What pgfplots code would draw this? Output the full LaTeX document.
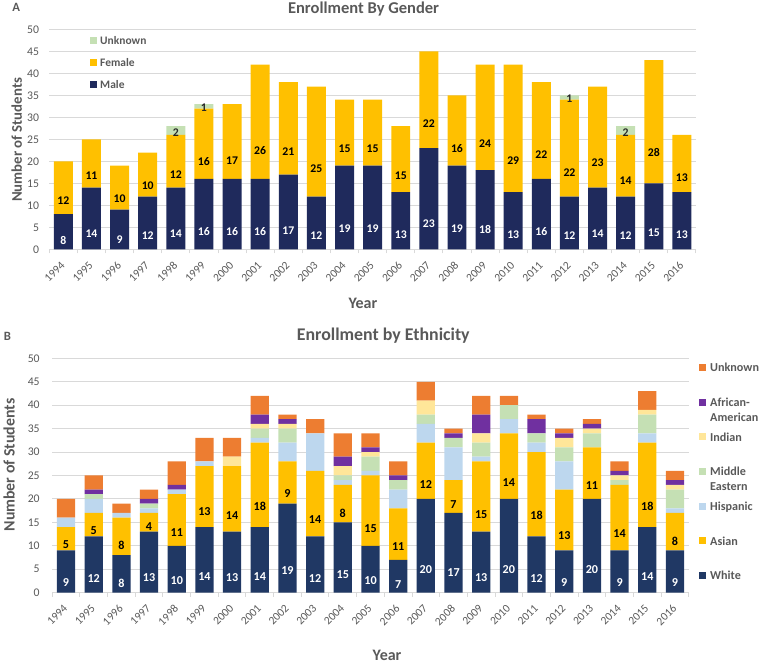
\documentclass[border=0pt]{standalone}
\usepackage{pgfplots}
\usepackage{pgfplotstable}
\pgfplotsset{compat=1.18}
\usepackage{fontspec}
\setmainfont{Carlito}

\definecolor{txtgray}{HTML}{595959}
\definecolor{gridgray}{HTML}{D9D9D9}
\definecolor{navyA}{HTML}{1F2A5C}
\definecolor{navyB}{HTML}{203864}
\definecolor{gold}{HTML}{FFC000}
\definecolor{lgreen}{HTML}{C5E0B4}
\definecolor{orangeU}{HTML}{ED7D31}
\definecolor{purpleAA}{HTML}{7030A0}
\definecolor{beigeI}{HTML}{FFE699}
\definecolor{lblue}{HTML}{BDD7EE}

\newcommand\fs[1]{\fontsize{#1}{1.24\dimexpr #1pt\relax}\selectfont}

% Enrollment by gender
\pgfplotstableread{
x male female unk
0  8 12 0
1 14 11 0
2  9 10 0
3 12 10 0
4 14 12 2
5 16 16 1
6 16 17 0
7 16 26 0
8 17 21 0
9 12 25 0
10 19 15 0
11 19 15 0
12 13 15 0
13 23 22 0
14 19 16 0
15 18 24 0
16 13 29 0
17 16 22 0
18 12 22 1
19 14 23 0
20 12 14 2
21 15 28 0
22 13 13 0
}\gender

% Enrollment by ethnicity
\pgfplotstableread{
x W A H ME I AA U
0   9  5 2 0 0 0 4
1  12  5 3 1 0 1 3
2   8  8 1 0 0 0 2
3  13  4 1 1 0 1 2
4  10 11 1 0 0 1 5
5  14 13 1 0 0 0 5
6  13 14 0 0 2 0 4
7  14 18 1 2 1 2 4
8  19  9 4 3 1 1 1
9  12 14 8 0 0 0 3
10 15  8 1 1 2 2 5
11 10 15 1 3 1 1 3
12  7 11 4 2 0 1 3
13 20 12 4 2 3 0 4
14 17  7 7 2 0 1 1
15 13 15 1 3 2 4 4
16 20 14 3 3 0 0 2
17 12 18 2 2 0 3 1
18  9 13 6 3 2 1 1
19 20 11 0 3 1 1 1
20  9 14 0 1 1 1 2
21 14 18 2 4 1 0 4
22  9  8 1 4 1 1 2
}\ethnic

\pgfplotsset{
  enr/.style={
    scale only axis,
    ybar stacked,
    xmin=-0.5, xmax=22.5, ymin=0, ymax=50,
    ytick={0,5,...,50},
    xtick={0,...,22},
    xticklabels={1994,1995,1996,1997,1998,1999,2000,2001,2002,2003,2004,2005,2006,2007,2008,2009,2010,2011,2012,2013,2014,2015,2016},
    minor xtick={-0.5,0.5,...,22.5},
    tick align=outside,
    major tick length=0pt,
    minor tick length=3pt,
    axis lines*=left,
    axis line style={-},
    y axis line style={draw=none},
    x axis line style={draw=gridgray, line width=0.75pt},
    minor x tick style={draw=gridgray, line width=0.75pt},
    ymajorgrids,
    major grid style={draw=gridgray, line width=0.75pt},
    /pgf/number format/assume math mode=true,
    xticklabel style={font=\fs{8.6}, text=txtgray, inner sep=0pt, xshift=-2.4pt, yshift=-8.4pt, rotate=45, anchor=north east},
    legend cell align=left,
    reverse legend,
    clip=false,
  },
  lab/.style n args={3}{
    point meta=explicit symbolic,
    nodes near coords={\ifnum\pgfplotspointmeta>0 \pgfplotspointmeta\fi},
    every node near coord/.append style={anchor=center, inner sep=0pt, yshift=-\pgfplotspointmeta*#1, font=\bfseries\fs{#2}, text=#3},
  },
}

\begin{document}
\begin{tikzpicture}
\useasboundingbox (0pt,0pt) rectangle (570.75pt,-497.25pt);

% ---------------- Panel A ----------------
\begin{axis}[enr,
  at={(36.98pt,-186.98pt)}, anchor=south west,
  width=485pt, height=165pt, bar width=0.675,
  yticklabel style={font=\fs{8.8}, text=txtgray, inner sep=0pt, anchor=east, xshift=-7.5pt},
  title={Enrollment By Gender},
  every axis title/.style={at={(axis description cs:0.486,1.091)}, anchor=center, font=\bfseries\fs{12.4}, text=txtgray},
  xlabel={Year},
  every axis x label/.style={at={(axis description cs:0.485,-0.244)}, anchor=center, font=\bfseries\fs{12}, text=txtgray},
  ylabel={Number of Students},
  every axis y label/.style={at={(axis description cs:-0.0504,0.497)}, anchor=center, rotate=90, font=\bfseries\fs{11.1}, text=txtgray},
  legend image code/.code={\fill[#1] (0pt,-2.6pt) rectangle (5.2pt,2.6pt);},
  legend style={draw=none, fill=none, at={(0.063,0.9695)}, anchor=north west, inner sep=0pt, row sep=10.5pt, column sep=2.25pt,
    nodes={inner sep=0pt, text height=6pt, text depth=0pt, font=\bfseries\fs{8.6}, text=txtgray}},
]
\addplot[fill=navyA, draw=none, lab={0.825pt}{8.8}{white}] table[x=x, y=male, meta=male]{\gender};
\addlegendentry{Male}
\addplot[fill=gold, draw=none, lab={0.825pt}{8.8}{black}] table[x=x, y=female, meta=female]{\gender};
\addlegendentry{Female}
\addplot[fill=lgreen, draw=none, lab={0.825pt}{8.8}{black!85}] table[x=x, y=unk, meta=unk]{\gender};
\addlegendentry{Unknown}
\end{axis}

% ---------------- Panel B ----------------
\begin{axis}[enr,
  at={(39.15pt,-444.45pt)}, anchor=south west,
  width=477.45pt, height=175.7pt, bar width=0.66,
  yticklabel style={font=\fs{8.8}, text=txtgray, inner sep=0pt, anchor=east, xshift=-9.2pt},
  title={Enrollment by Ethnicity},
  every axis title/.style={at={(axis description cs:0.52,1.099)}, anchor=center, font=\bfseries\fs{13.4}, text=txtgray},
  xlabel={Year},
  every axis x label/.style={at={(axis description cs:0.526,-0.266)}, anchor=center, font=\bfseries\fs{12}, text=txtgray},
  ylabel={Number of Students},
  every axis y label/.style={at={(axis description cs:-0.0675,0.545)}, anchor=center, rotate=90, font=\bfseries\fs{11.9}, text=txtgray},
  legend image code/.code={\fill[#1] (0pt,-2.6pt) rectangle (5.2pt,2.6pt);},
  legend style={draw=none, fill=none, at={(1.016,0.981)}, anchor=north west, inner sep=0pt, row sep=19.5pt, column sep=3pt,
    nodes={inner sep=0pt, text height=6.5pt, text depth=0pt, font=\bfseries\fs{9.1}, text=txtgray}},
]
\addplot[fill=navyB, draw=none, lab={0.8785pt}{9.1}{white}] table[x=x, y=W, meta=W]{\ethnic};
\addlegendentry{White}
\addplot[fill=gold, draw=none, lab={0.8785pt}{9.1}{black}] table[x=x, y=A, meta=A]{\ethnic};
\addlegendentry{Asian}
\addplot[fill=lblue, draw=none] table[x=x, y=H]{\ethnic};
\addlegendentry{Hispanic}
\addplot[fill=lgreen, draw=none] table[x=x, y=ME]{\ethnic};
\addlegendentry{\parbox[t]{50pt}{Middle\\Eastern}}
\addplot[fill=beigeI, draw=none] table[x=x, y=I]{\ethnic};
\addlegendentry{Indian}
\addplot[fill=purpleAA, draw=none] table[x=x, y=AA]{\ethnic};
\addlegendentry{\parbox[t]{50pt}{African-\\American}}
\addplot[fill=orangeU, draw=none] table[x=x, y=U]{\ethnic};
\addlegendentry{Unknown}
\end{axis}

\node[font=\bfseries\fs{9.5}, text=txtgray] at (12.15pt,-5.6pt) {A};
\node[font=\bfseries\fs{9.5}, text=txtgray] at (5.6pt,-252.5pt) {B};
\end{tikzpicture}
\end{document}
